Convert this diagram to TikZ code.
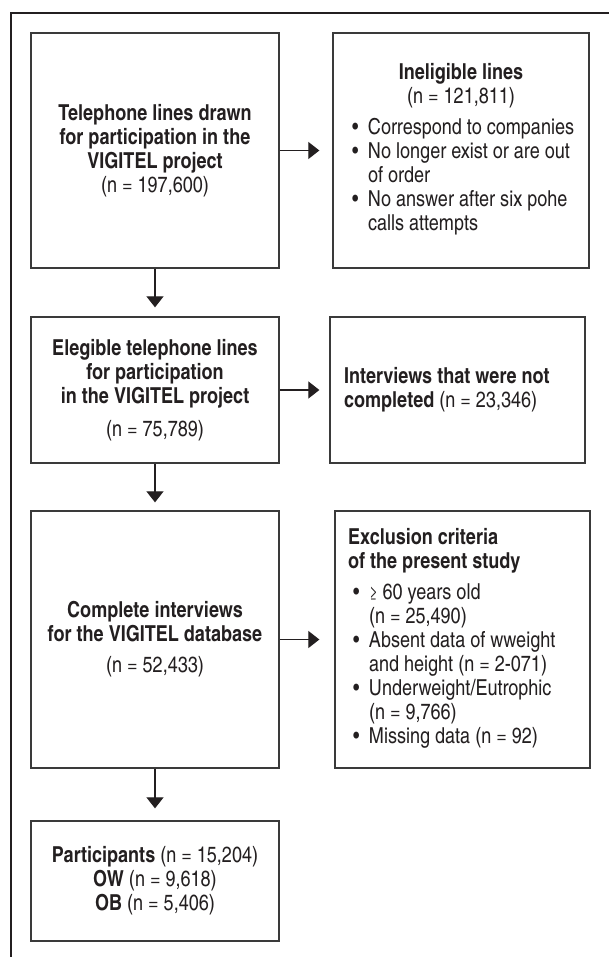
\documentclass[tikz,border=0pt]{standalone}
\usepackage{fontspec}
\setmainfont{texgyreheroscn}[Extension=.otf, UprightFont=*-regular, BoldFont=*-bold, ItalicFont=*-italic, BoldItalicFont=*-bolditalic]
\usetikzlibrary{arrows.meta}
\definecolor{ink}{HTML}{231F20}
\definecolor{edgec}{HTML}{3A3A3A}
\newcommand{\bl}[2]{\par\noindent\makebox[16pt][l]{\strut\textbullet}\parbox[t]{#1}{\raggedright\strut #2\strut}\par}
\newcommand{\fs}{\fontsize{22}{24}\selectfont\lineskip=0pt}
\tikzset{
  box/.style={draw=edgec, line width=1.3pt, inner sep=0pt, text=ink, font=\fs},
  lbox/.style={box, minimum width=248pt, align=center},
  arr/.style={draw=ink, line width=1.1pt, -{Triangle[width=17pt,length=11pt]}},
  frame/.style={draw=ink, line width=2.6pt}
}
\begin{document}
\begin{tikzpicture}[x=1pt,y=-1pt]
\useasboundingbox (0,0) rectangle (609,957);
\draw[frame] (609,13) -- (11,13) -- (11,957);

\node[lbox, minimum height=235pt] (b1) at (155,150.5)
  {\textbf{Telephone lines drawn}\\ \textbf{for participation in the}\\ \textbf{VIGITEL project}\\ (n = 197,600)};
\node[box, minimum width=256pt, minimum height=235pt] (b2) at (461,150.5)
  {\begin{minipage}{218pt}\fs\hbadness=10000\hfuzz=20pt\centering
   \textbf{Ineligible lines}\\ (n = 121,811)\par\vspace{7pt}\raggedright
   \bl{210pt}{Correspond to companies}
   \bl{210pt}{No longer exist or are out\\ of order}
   \bl{210pt}{No answer after six pohe\\ calls attempts}
   \end{minipage}};

\node[lbox, minimum height=146pt] (b3) at (155,390)
  {\textbf{Elegible telephone lines}\\ \textbf{for participation}\\ \textbf{in the VIGITEL project}\\[9pt] (n = 75,789)};
\node[box, minimum width=255pt, minimum height=146pt] (b4) at (457.5,390)
  {\begin{minipage}{227pt}\fs\raggedright
   \textbf{Interviews that were not}\\ \textbf{completed} (n = 23,346)\par
   \end{minipage}};

\node[lbox, minimum height=257pt] (b5) at (155,639.5)
  {\textbf{Complete interviews}\\ \textbf{for the VIGITEL database}\\[7pt] (n = 52,433)};
\node[box, minimum width=255pt, minimum height=257pt] (b6) at (462.5,639.5)
  {\begin{minipage}{229pt}\fs\raggedright
   \textbf{Exclusion criteria}\\ \textbf{of the present study}\par\vspace{7pt}
   \leftskip=5pt
   \bl{208pt}{{\fontsize{18}{24}\selectfont ≥} 60 years old\\ (n = 25,490)}
   \bl{208pt}{Absent data of wweight\\ and height (n = 2-071)}
   \bl{208pt}{Underweight/Eutrophic\\ (n = 9,766)}
   \bl{208pt}{Missing data (n = 92)}
   \end{minipage}};

\node[lbox, minimum height=120pt] (b7) at (155,881)
  {\textbf{Participants} (n = 15,204)\\ \textbf{OW} (n = 9,618)\\ \textbf{OB} (n = 5,406)};

\draw[arr, shorten >=13pt] (b1.east) -- (b2.west);
\draw[arr, shorten >=10pt] (b3.east) -- (b4.west);
\draw[arr, shorten >=15pt] (b5.east) -- (b6.west);
\draw[arr, shorten >=9pt] (b1.south) -- (b3.north);
\draw[arr, shorten >=8pt] (b3.south) -- (b5.north);
\draw[arr, shorten >=12pt] (b5.south) -- (b7.north);
\end{tikzpicture}
\end{document}
